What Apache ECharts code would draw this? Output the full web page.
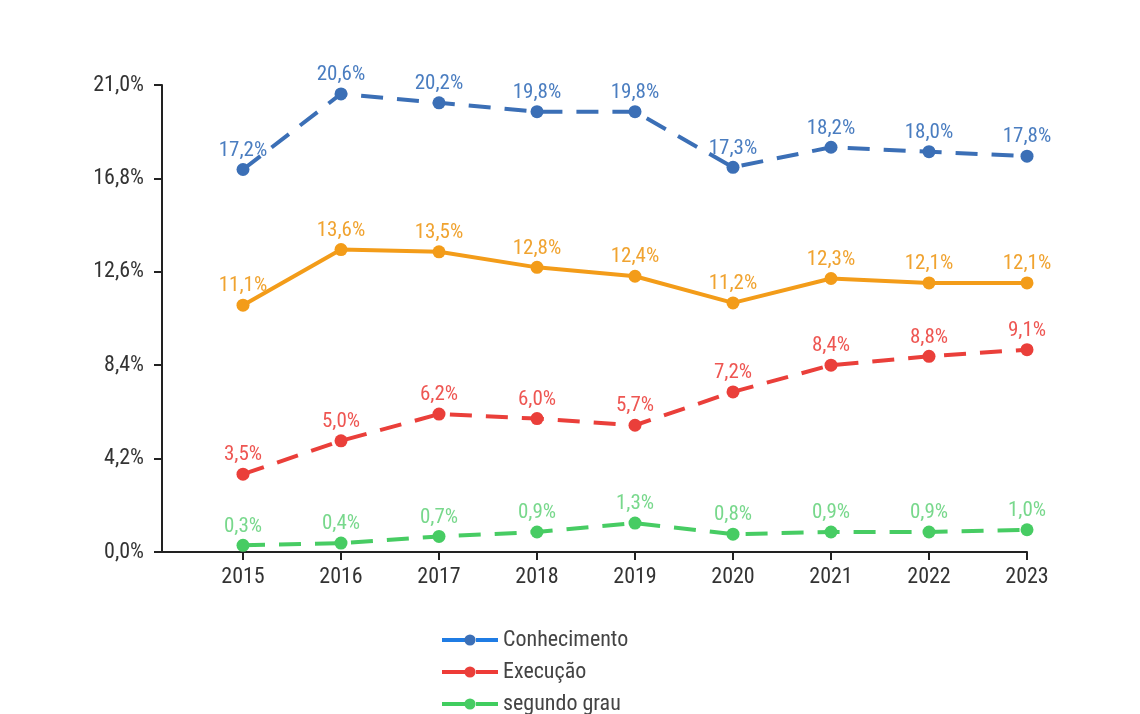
<!DOCTYPE html>
<html><head><meta charset="utf-8">
<script src="https://cdn.jsdelivr.net/npm/echarts@6/dist/echarts.min.js"></script>
<style>html,body{margin:0;padding:0;background:#fff}#c{width:1140px;height:714px}</style>
</head><body><div id="c"></div>
<script>
const years = [2015, 2016, 2017, 2018, 2019, 2020, 2021, 2022, 2023];
const yTicks = [0, 4.2, 8.4, 12.6, 16.8, 21.0];
const conhecimento = [17.2, 20.6, 20.2, 19.8, 19.8, 17.3, 18.2, 18.0, 17.8];
const total = [11.1, 13.6, 13.5, 12.8, 12.4, 11.2, 12.3, 12.1, 12.1];
const execucao = [3.5, 5.0, 6.2, 6.0, 5.7, 7.2, 8.4, 8.8, 9.1];
const segundoGrau = [0.3, 0.4, 0.7, 0.9, 1.3, 0.8, 0.9, 0.9, 1.0];
const legendNames = ['Conhecimento', 'Execução', 'segundo grau'];
const legendLineColors = ['#1f7ce4', '#ee3b37', '#40cd5f'];

const FONT = '"Roboto Condensed", "Liberation Sans Narrow", Roboto, sans-serif';
const fmt = v => v.toFixed(1).replace('.', ',') + '%';

function mk(name, vals, color, labelColor, dashed) {
  return {
    name, type: 'line',
    data: years.map((y, i) => [y, vals[i]]),
    symbol: 'circle', symbolSize: 13,
    itemStyle: { color },
    lineStyle: { color, width: 4, type: dashed ? [22, 14] : 'solid' },
    label: { show: true, position: 'top', distance: 2, formatter: p => fmt(p.value[1]),
      color: labelColor, fontSize: 21, fontFamily: FONT },
    z: 3
  };
}

const chart = echarts.init(document.getElementById('c'));
chart.setOption({
  animation: false,
  backgroundColor: '#fff',
  grid: { left: 162, right: 113, top: 85, bottom: 162 },
  xAxis: {
    type: 'value', min: 2015 - 81 / 98, max: 2023,
    axisLine: { lineStyle: { color: '#222', width: 2 } },
    axisTick: { show: true, length: 8, customValues: years, lineStyle: { color: '#222', width: 2 } },
    axisLabel: { customValues: years, formatter: v => String(v), color: '#333', fontSize: 22,
      fontFamily: FONT, margin: 14 },
    splitLine: { show: false }
  },
  yAxis: {
    type: 'value', min: 0, max: 21, interval: 4.2,
    axisLine: { show: true, lineStyle: { color: '#222', width: 2 } },
    axisTick: { show: true, length: 8, lineStyle: { color: '#222', width: 2 } },
    axisLabel: { formatter: v => fmt(v), color: '#333', fontSize: 22, fontFamily: FONT, margin: 18 },
    splitLine: { show: false }
  },
  legend: legendNames.map((n, i) => ({
    orient: 'vertical', left: 435, top: 624 + i * 32,
    itemWidth: 56, itemHeight: 14, itemGap: 8,
    data: [n],
    lineStyle: { width: 4, type: [24, 10], color: legendLineColors[i] },
    textStyle: { color: '#444', fontSize: 22, fontFamily: FONT, padding: [0, 0, 0, 0] }
  })),
  series: [
    mk('Conhecimento', conhecimento, '#3b6fb6', '#4a7dc0', true),
    mk('Total', total, '#f39c19', '#f0a330', false),
    mk('Execução', execucao, '#ea3f3a', '#ee5652', true),
    mk('segundo grau', segundoGrau, '#47cc63', '#78d88c', true)
  ]
});
</script></body></html>
